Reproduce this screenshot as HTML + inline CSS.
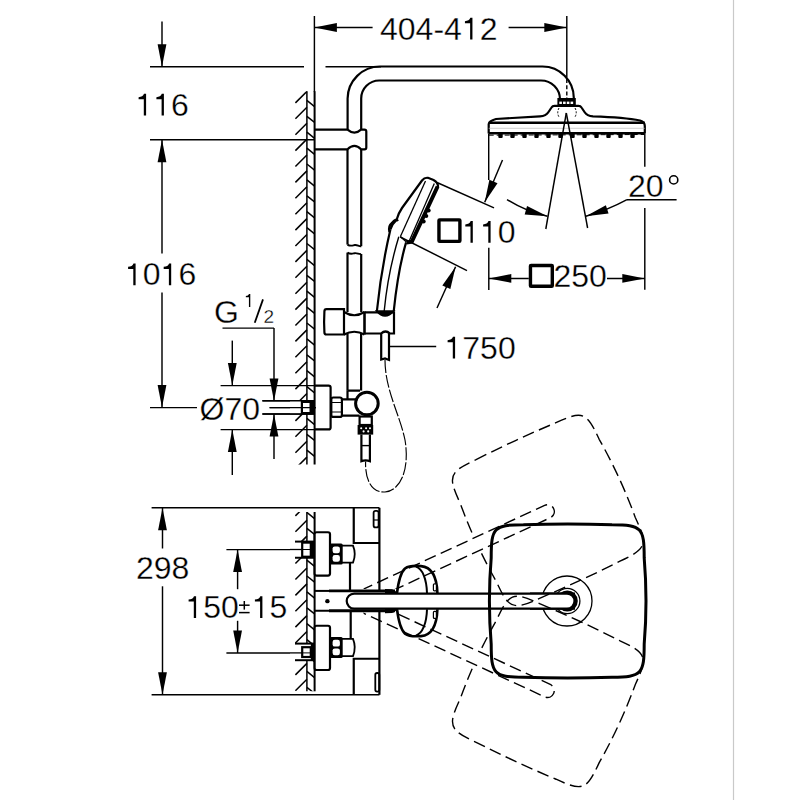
<!DOCTYPE html>
<html><head><meta charset="utf-8"><style>
html,body{margin:0;padding:0;background:#fff;width:800px;height:800px;overflow:hidden}
svg{position:absolute;left:0;top:0;display:block}
text{font-family:"Liberation Sans",sans-serif;fill:#000;stroke:#fff;stroke-width:0.3px}
</style></head><body>
<svg width="800" height="800" viewBox="0 0 800 800" stroke="#000" fill="none" stroke-linecap="butt">
<rect x="732.9" y="0" width="1.2" height="800" fill="#c9c9c9" stroke="none"/>
<line x1="162.00" y1="21.50" x2="162.00" y2="66.70" stroke-width="1.45" />
<path d="M162.00,66.70 L157.60,44.20 L166.40,44.20Z" fill="#000" stroke="none"/>
<line x1="150.00" y1="66.70" x2="304.00" y2="66.70" stroke-width="1.45" />
<line x1="325.50" y1="66.70" x2="381.00" y2="66.70" stroke-width="1.45" />
<line x1="150.00" y1="139.70" x2="314.00" y2="139.70" stroke-width="1.45" />
<line x1="162.00" y1="139.70" x2="162.00" y2="253.50" stroke-width="1.45" />
<path d="M162.00,139.70 L166.40,162.20 L157.60,162.20Z" fill="#000" stroke="none"/>
<line x1="162.00" y1="292.50" x2="162.00" y2="407.60" stroke-width="1.45" />
<path d="M162.00,407.60 L157.60,385.10 L166.40,385.10Z" fill="#000" stroke="none"/>
<line x1="150.00" y1="407.60" x2="197.00" y2="407.60" stroke-width="1.45" />
<path d="M146.10,93.85 L146.10,115.60 L143.80,115.60 L143.80,99.30 L138.60,99.30 L138.60,97.20 Q142.80,97.00 144.00,93.85 Z" fill="#000" stroke="none"/>
<path d="M163.90,93.85 L163.90,115.60 L161.60,115.60 L161.60,99.30 L156.40,99.30 L156.40,97.20 Q160.60,97.00 161.80,93.85 Z" fill="#000" stroke="none"/>
<text x="135.5" y="115.6" font-size="32" >  6</text>
<path d="M135.60,263.45 L135.60,285.20 L133.30,285.20 L133.30,268.90 L128.10,268.90 L128.10,266.80 Q132.30,266.60 133.50,263.45 Z" fill="#000" stroke="none"/>
<path d="M171.19,263.45 L171.19,285.20 L168.89,285.20 L168.89,268.90 L163.69,268.90 L163.69,266.80 Q167.89,266.60 169.09,263.45 Z" fill="#000" stroke="none"/>
<text x="125" y="285.2" font-size="32" > 0 6</text>
<line x1="314.40" y1="16.00" x2="314.40" y2="92.00" stroke-width="1.45" />
<line x1="566.80" y1="16.00" x2="566.80" y2="77.50" stroke-width="1.45" />
<line x1="566.80" y1="79.00" x2="566.80" y2="98.50" stroke-width="1.4" stroke-dasharray="4,2.2"/>
<line x1="314.40" y1="27.50" x2="372.60" y2="27.50" stroke-width="1.45" />
<path d="M314.40,27.50 L336.90,23.10 L336.90,31.90Z" fill="#000" stroke="none"/>
<line x1="508.60" y1="27.50" x2="566.80" y2="27.50" stroke-width="1.45" />
<path d="M566.80,27.50 L544.30,31.90 L544.30,23.10Z" fill="#000" stroke="none"/>
<path d="M472.44,17.85 L472.44,39.60 L470.14,39.60 L470.14,23.30 L464.94,23.30 L464.94,21.20 Q469.14,21.00 470.34,17.85 Z" fill="#000" stroke="none"/>
<text x="380" y="39.6" font-size="32" >404-4 2</text>
<clipPath id="wc1"><rect x="290" y="91.2" width="25" height="373.3"/></clipPath>
<g clip-path="url(#wc1)">
<line x1="295.40" y1="55.20" x2="306.90" y2="43.70" stroke-width="1.5" />
<line x1="295.40" y1="71.10" x2="306.90" y2="59.60" stroke-width="1.5" />
<line x1="295.40" y1="87.00" x2="306.90" y2="75.50" stroke-width="1.5" />
<line x1="295.40" y1="102.90" x2="306.90" y2="91.40" stroke-width="1.5" />
<line x1="295.40" y1="118.80" x2="306.90" y2="107.30" stroke-width="1.5" />
<line x1="295.40" y1="134.70" x2="306.90" y2="123.20" stroke-width="1.5" />
<line x1="295.40" y1="150.60" x2="306.90" y2="139.10" stroke-width="1.5" />
<line x1="295.40" y1="166.50" x2="306.90" y2="155.00" stroke-width="1.5" />
<line x1="295.40" y1="182.40" x2="306.90" y2="170.90" stroke-width="1.5" />
<line x1="295.40" y1="198.30" x2="306.90" y2="186.80" stroke-width="1.5" />
<line x1="295.40" y1="214.20" x2="306.90" y2="202.70" stroke-width="1.5" />
<line x1="295.40" y1="230.10" x2="306.90" y2="218.60" stroke-width="1.5" />
<line x1="295.40" y1="246.00" x2="306.90" y2="234.50" stroke-width="1.5" />
<line x1="295.40" y1="261.90" x2="306.90" y2="250.40" stroke-width="1.5" />
<line x1="295.40" y1="277.80" x2="306.90" y2="266.30" stroke-width="1.5" />
<line x1="295.40" y1="293.70" x2="306.90" y2="282.20" stroke-width="1.5" />
<line x1="295.40" y1="309.60" x2="306.90" y2="298.10" stroke-width="1.5" />
<line x1="295.40" y1="325.50" x2="306.90" y2="314.00" stroke-width="1.5" />
<line x1="295.40" y1="341.40" x2="306.90" y2="329.90" stroke-width="1.5" />
<line x1="295.40" y1="357.30" x2="306.90" y2="345.80" stroke-width="1.5" />
<line x1="295.40" y1="373.20" x2="306.90" y2="361.70" stroke-width="1.5" />
<line x1="295.40" y1="389.10" x2="306.90" y2="377.60" stroke-width="1.5" />
<line x1="295.40" y1="405.00" x2="306.90" y2="393.50" stroke-width="1.5" />
<line x1="295.40" y1="420.90" x2="306.90" y2="409.40" stroke-width="1.5" />
<line x1="295.40" y1="436.80" x2="306.90" y2="425.30" stroke-width="1.5" />
<line x1="295.40" y1="452.70" x2="306.90" y2="441.20" stroke-width="1.5" />
<line x1="295.40" y1="468.60" x2="306.90" y2="457.10" stroke-width="1.5" />
<line x1="295.40" y1="484.50" x2="306.90" y2="473.00" stroke-width="1.5" />
<line x1="306.90" y1="52.70" x2="314.60" y2="58.90" stroke-width="1.5" />
<line x1="306.90" y1="68.60" x2="314.60" y2="74.80" stroke-width="1.5" />
<line x1="306.90" y1="84.50" x2="314.60" y2="90.70" stroke-width="1.5" />
<line x1="306.90" y1="100.40" x2="314.60" y2="106.60" stroke-width="1.5" />
<line x1="306.90" y1="116.30" x2="314.60" y2="122.50" stroke-width="1.5" />
<line x1="306.90" y1="132.20" x2="314.60" y2="138.40" stroke-width="1.5" />
<line x1="306.90" y1="148.10" x2="314.60" y2="154.30" stroke-width="1.5" />
<line x1="306.90" y1="164.00" x2="314.60" y2="170.20" stroke-width="1.5" />
<line x1="306.90" y1="179.90" x2="314.60" y2="186.10" stroke-width="1.5" />
<line x1="306.90" y1="195.80" x2="314.60" y2="202.00" stroke-width="1.5" />
<line x1="306.90" y1="211.70" x2="314.60" y2="217.90" stroke-width="1.5" />
<line x1="306.90" y1="227.60" x2="314.60" y2="233.80" stroke-width="1.5" />
<line x1="306.90" y1="243.50" x2="314.60" y2="249.70" stroke-width="1.5" />
<line x1="306.90" y1="259.40" x2="314.60" y2="265.60" stroke-width="1.5" />
<line x1="306.90" y1="275.30" x2="314.60" y2="281.50" stroke-width="1.5" />
<line x1="306.90" y1="291.20" x2="314.60" y2="297.40" stroke-width="1.5" />
<line x1="306.90" y1="307.10" x2="314.60" y2="313.30" stroke-width="1.5" />
<line x1="306.90" y1="323.00" x2="314.60" y2="329.20" stroke-width="1.5" />
<line x1="306.90" y1="338.90" x2="314.60" y2="345.10" stroke-width="1.5" />
<line x1="306.90" y1="354.80" x2="314.60" y2="361.00" stroke-width="1.5" />
<line x1="306.90" y1="370.70" x2="314.60" y2="376.90" stroke-width="1.5" />
<line x1="306.90" y1="386.60" x2="314.60" y2="392.80" stroke-width="1.5" />
<line x1="306.90" y1="402.50" x2="314.60" y2="408.70" stroke-width="1.5" />
<line x1="306.90" y1="418.40" x2="314.60" y2="424.60" stroke-width="1.5" />
<line x1="306.90" y1="434.30" x2="314.60" y2="440.50" stroke-width="1.5" />
<line x1="306.90" y1="450.20" x2="314.60" y2="456.40" stroke-width="1.5" />
<line x1="306.90" y1="466.10" x2="314.60" y2="472.30" stroke-width="1.5" />
</g>
<line x1="314.60" y1="91.20" x2="314.60" y2="464.50" stroke-width="2.0" />
<line x1="306.90" y1="91.20" x2="306.90" y2="464.50" stroke-width="1.5" />
<path d="M347.6,129.5 V98.5 A32.4,32.4 0 0 1 380,66.5 H542.5 A31.3,31.3 0 0 1 573.8,97.8 V100" stroke-width="2.2" fill="none" />
<path d="M361.2,129.5 V98.5 A18,18 0 0 1 379.2,80.5 H541 A19,19 0 0 1 560,99.5 V100" stroke-width="2.2" fill="none" />
<path d="M314.6,129.6 H347.5 Q354.5,135.6 361,129.6 H364.5 Q366.3,129.6 366.3,131.5 V147.5 Q366.3,149.3 364.5,149.3 H361 Q354.5,142.6 347.5,149.3 H314.6" stroke-width="2.2" fill="none" />
<line x1="347.50" y1="149.30" x2="347.50" y2="244.60" stroke-width="2.2" />
<line x1="361.20" y1="149.30" x2="361.20" y2="246.20" stroke-width="2.2" />
<path d="M347.5,244.6 C350.5,246.6 352.5,245.4 354.8,245 C357.3,244.6 359,246.6 361.2,246.2" stroke-width="1.9" fill="none" />
<path d="M347.5,252.6 C350.5,254.6 352.5,253.6 354.8,253.2 C357.3,252.8 359,254.6 361.2,254" stroke-width="1.9" fill="none" />
<line x1="347.50" y1="252.60" x2="347.50" y2="312.00" stroke-width="2.2" />
<line x1="361.20" y1="254.00" x2="361.20" y2="312.00" stroke-width="2.2" />
<line x1="347.50" y1="334.00" x2="347.50" y2="390.60" stroke-width="2.2" />
<line x1="361.10" y1="334.00" x2="361.10" y2="390.60" stroke-width="2.2" />
<path d="M344,309.2 H326.5 Q324.4,309.2 324.4,311.5 Q323.8,322 324.4,332.2 Q324.4,334.5 326.5,334.5 H344 Z" stroke-width="2.2" fill="none" />
<path d="M344,312 Q354.3,318.5 364.5,312 M344,334.5 Q354.3,329 364.5,334.5" stroke-width="2.2" fill="none" />
<line x1="364.50" y1="311.50" x2="364.50" y2="334.50" stroke-width="2.6" />
<path d="M364.5,312.3 H394 V333.5 H390 Q385.5,329.5 381,333.5 H364.5" stroke-width="2.2" fill="none" />
<path d="M376.5,311 Q385,321 393.8,311 Z" stroke-width="1.6" fill="#000" />
<path d="M381.2,333 V359.5 L385,358.5 L389,360 V333" stroke-width="2.2" fill="none" />
<line x1="389.00" y1="346.50" x2="436.20" y2="346.50" stroke-width="1.45" />
<path d="M455.10,336.85 L455.10,358.60 L452.80,358.60 L452.80,342.30 L447.60,342.30 L447.60,340.20 Q451.80,340.00 453.00,336.85 Z" fill="#000" stroke="none"/>
<text x="444.5" y="358.6" font-size="32" > 750</text>
<path d="M376.9,311 Q381,270 390.4,229.5" stroke-width="2.2" fill="none" />
<path d="M393.75,311 Q398,270 406.1,242.4" stroke-width="2.2" fill="none" />
<path d="M384.2,311 Q388,272 398.8,236.8" stroke-width="1.4" fill="none" />
<line x1="400.50" y1="236.80" x2="406.50" y2="242.00" stroke-width="1.4" />
<path d="M390.4,229.5 Q392,224 396.5,220 Q398.5,213 402,208 L422,180.5 Q424.5,177.3 428,177.8 L433.5,180 Q438.2,182.5 438,187" stroke-width="2.2" fill="none" />
<path d="M389.5,232 Q388,226 392,223 Q396,218 398,221" stroke-width="2.4" fill="none" />
<line x1="425.50" y1="181.00" x2="400.30" y2="236.80" stroke-width="1.3" />
<line x1="434.30" y1="183.50" x2="408.80" y2="242.00" stroke-width="1.3" />
<path d="M437.6,186.5 L411.8,241.8 L406.5,242.6" stroke-width="4.0" fill="none" />
<circle cx="428.6" cy="210.5" r="2.1" fill="#000" stroke="none"/>
<circle cx="426.2" cy="216" r="2.1" fill="#000" stroke="none"/>
<circle cx="423.6" cy="221.5" r="2.1" fill="#000" stroke="none"/>
<line x1="437.00" y1="182.50" x2="494.00" y2="207.80" stroke-width="1.45" />
<line x1="400.30" y1="237.00" x2="467.00" y2="270.60" stroke-width="1.45" />
<line x1="502.50" y1="160.00" x2="484.70" y2="202.20" stroke-width="1.45" />
<path d="M484.70,202.20 L489.39,179.76 L497.50,183.18Z" fill="#000" stroke="none"/>
<line x1="437.00" y1="308.00" x2="455.60" y2="266.80" stroke-width="1.45" />
<path d="M455.60,266.80 L450.35,289.12 L442.33,285.50Z" fill="#000" stroke="none"/>
<rect x="438.95" y="219.9" width="20.95" height="21.5" rx="0.6" fill="none" stroke-width="3.4"/>
<path d="M472.80,221.05 L472.80,242.80 L470.50,242.80 L470.50,226.50 L465.30,226.50 L465.30,224.40 Q469.50,224.20 470.70,221.05 Z" fill="#000" stroke="none"/>
<path d="M490.60,221.05 L490.60,242.80 L488.30,242.80 L488.30,226.50 L483.10,226.50 L483.10,224.40 Q487.30,224.20 488.50,221.05 Z" fill="#000" stroke="none"/>
<text x="462.2" y="242.8" font-size="32" >  0</text>
<rect x="557.4" y="98" width="18.4" height="7.6" fill="#000" stroke="none"/>
<rect x="559.30" y="101.6" width="2.6" height="2.4" fill="#fff" stroke="none"/>
<rect x="563.05" y="101.6" width="2.6" height="2.4" fill="#fff" stroke="none"/>
<rect x="566.80" y="101.6" width="2.6" height="2.4" fill="#fff" stroke="none"/>
<rect x="570.55" y="101.6" width="2.6" height="2.4" fill="#fff" stroke="none"/>
<path d="M488.7,133.5 V124 Q489,121 496,119 Q520,117.5 540,116.3 Q546,116 548.5,112 L551.5,107.5 Q552.5,105.8 554.5,105.8 H578.5 Q580.5,105.8 581.5,107.5 L584.5,112 Q587,116 593,116.4 Q625,117.5 640,120.5 Q644.8,122 644.8,126 V133.5" stroke-width="2.2" fill="none" />
<line x1="488.70" y1="122.80" x2="644.80" y2="122.80" stroke-width="2.4" />
<line x1="488.70" y1="128.30" x2="644.80" y2="128.30" stroke-width="0.7" stroke="#bbb"/>
<line x1="488.70" y1="133.30" x2="644.80" y2="133.30" stroke-width="2.4" />
<line x1="488.70" y1="135.20" x2="644.00" y2="134.50" stroke-width="1.0" stroke-dasharray="5,3"/>
<rect x="498.3" y="133.5" width="4.4" height="4.6" rx="1" fill="#000" stroke="none"/>
<rect x="510.3" y="133.5" width="4.4" height="4.6" rx="1" fill="#000" stroke="none"/>
<rect x="522.3" y="133.5" width="4.4" height="4.6" rx="1" fill="#000" stroke="none"/>
<rect x="534.3" y="133.5" width="4.4" height="4.6" rx="1" fill="#000" stroke="none"/>
<rect x="546.3" y="133.5" width="4.4" height="4.6" rx="1" fill="#000" stroke="none"/>
<rect x="558.3" y="133.5" width="4.4" height="4.6" rx="1" fill="#000" stroke="none"/>
<rect x="570.3" y="133.5" width="4.4" height="4.6" rx="1" fill="#000" stroke="none"/>
<rect x="582.3" y="133.5" width="4.4" height="4.6" rx="1" fill="#000" stroke="none"/>
<rect x="594.3" y="133.5" width="4.4" height="4.6" rx="1" fill="#000" stroke="none"/>
<rect x="606.3" y="133.5" width="4.4" height="4.6" rx="1" fill="#000" stroke="none"/>
<rect x="618.3" y="133.5" width="4.4" height="4.6" rx="1" fill="#000" stroke="none"/>
<rect x="630.3" y="133.5" width="4.4" height="4.6" rx="1" fill="#000" stroke="none"/>
<path d="M559,108 Q556.5,112.5 559,117" stroke-width="1.0" fill="none" stroke-dasharray="2,1.5"/>
<path d="M575,108 Q577.5,112.5 575,117" stroke-width="1.0" fill="none" stroke-dasharray="2,1.5"/>
<line x1="488.70" y1="133.50" x2="488.70" y2="180.00" stroke-width="1.45" />
<line x1="644.80" y1="133.50" x2="644.80" y2="166.80" stroke-width="1.45" />
<line x1="644.80" y1="208.00" x2="644.80" y2="289.80" stroke-width="1.45" />
<line x1="488.80" y1="247.80" x2="488.80" y2="290.00" stroke-width="1.45" />
<line x1="566.30" y1="113.00" x2="545.80" y2="229.00" stroke-width="1.45" />
<line x1="566.30" y1="113.00" x2="587.60" y2="228.00" stroke-width="1.45" />
<path d="M507,199.6 Q527,212 547.5,216.3" stroke-width="1.45" fill="none" />
<path d="M547.50,216.30 L524.65,214.41 L527.05,205.94Z" fill="#000" stroke="none"/>
<path d="M627,199.7 Q607,210.5 585.8,216.3" stroke-width="1.45" fill="none" />
<path d="M585.80,216.30 L605.87,205.22 L608.57,213.60Z" fill="#000" stroke="none"/>
<line x1="627.00" y1="199.70" x2="676.60" y2="199.70" stroke-width="1.45" />
<text x="628" y="196.5" font-size="32" >20</text>
<circle cx="673.7" cy="179.9" r="4.1" fill="none" stroke-width="1.6"/>
<line x1="488.80" y1="278.40" x2="528.80" y2="278.40" stroke-width="1.45" />
<path d="M488.80,278.40 L511.30,274.00 L511.30,282.80Z" fill="#000" stroke="none"/>
<rect x="530.45" y="265.45" width="21.85" height="20.85" rx="0.6" fill="none" stroke-width="3.4"/>
<text x="553.5" y="287.4" font-size="32" >250</text>
<line x1="607.00" y1="278.40" x2="644.80" y2="278.40" stroke-width="1.45" />
<path d="M644.80,278.40 L622.30,282.80 L622.30,274.00Z" fill="#000" stroke="none"/>
<text x="214" y="322.8" font-size="32" >G</text>
<path d="M250.29,293.99 L250.29,306.90 L248.93,306.90 L248.93,297.22 L245.84,297.22 L245.84,295.97 Q248.33,295.86 249.05,293.99 Z" fill="#000" stroke="none"/>
<line x1="254.75" y1="322.75" x2="263.00" y2="299.40" stroke-width="1.8" />
<text x="263.5" y="322.8" font-size="19" >2</text>
<line x1="222.50" y1="328.10" x2="274.00" y2="328.10" stroke-width="1.45" />
<line x1="274.00" y1="328.10" x2="274.00" y2="401.00" stroke-width="1.45" />
<path d="M274.00,401.00 L269.60,378.50 L278.40,378.50Z" fill="#000" stroke="none"/>
<line x1="274.00" y1="414.00" x2="274.00" y2="459.00" stroke-width="1.45" />
<path d="M274.00,414.00 L278.40,436.50 L269.60,436.50Z" fill="#000" stroke="none"/>
<line x1="232.30" y1="340.60" x2="232.30" y2="385.60" stroke-width="1.45" />
<path d="M232.30,385.60 L227.90,363.10 L236.70,363.10Z" fill="#000" stroke="none"/>
<line x1="232.30" y1="429.60" x2="232.30" y2="475.00" stroke-width="1.45" />
<path d="M232.30,429.60 L236.70,452.10 L227.90,452.10Z" fill="#000" stroke="none"/>
<line x1="220.60" y1="385.60" x2="315.00" y2="385.60" stroke-width="1.45" />
<line x1="220.60" y1="429.60" x2="315.00" y2="429.60" stroke-width="1.45" />
<line x1="262.40" y1="400.80" x2="314.00" y2="400.80" stroke-width="1.45" />
<line x1="262.40" y1="413.90" x2="314.00" y2="413.90" stroke-width="1.45" />
<line x1="269.60" y1="407.70" x2="316.00" y2="407.70" stroke-width="1.2" />
<text x="199.5" y="419.5" font-size="32" >Ø70</text>
<path d="M314.6,385.6 H328.6 Q330.6,385.6 330.6,387.6 V427.4 Q330.6,429.4 328.6,429.4 H314.6" stroke-width="2.2" fill="none" />
<rect x="301.9" y="401.9" width="8.7" height="11.2" fill="none" stroke-width="2.2"/>
<rect x="310.6" y="401" width="3.5" height="13" fill="#000" stroke="none"/>
<rect x="331.3" y="397.5" width="10.6" height="19.4" rx="2" fill="none" stroke-width="2.2"/>
<line x1="332.00" y1="402.50" x2="341.00" y2="402.50" stroke-width="1.0" />
<line x1="332.00" y1="412.00" x2="341.00" y2="412.00" stroke-width="1.0" />
<path d="M341.9,399.4 H358 M341.9,415.6 H359.5" stroke-width="2.2" fill="none" />
<path d="M347.5,390.6 H360 M347.5,390.6 V399.4" stroke-width="2.2" fill="none" />
<circle cx="366.9" cy="403.5" r="11.3" fill="none" stroke-width="3"/>
<rect x="359.6" y="416.5" width="12.2" height="8.5" fill="none" stroke-width="2.2"/>
<rect x="357.6" y="425" width="15.6" height="9.6" fill="#000" stroke="none"/>
<circle cx="361.2" cy="428.3" r="1.05" fill="#fff" stroke="none"/>
<circle cx="366.1" cy="428.3" r="1.05" fill="#fff" stroke="none"/>
<circle cx="370.0" cy="428.3" r="1.05" fill="#fff" stroke="none"/>
<circle cx="363.6" cy="431.4" r="1.05" fill="#fff" stroke="none"/>
<circle cx="368.2" cy="431.4" r="1.05" fill="#fff" stroke="none"/>
<path d="M361.4,434.4 V461.2 Q365.6,459.5 369.9,461.2 V434.4" stroke-width="2.2" fill="none" />
<line x1="361.40" y1="445.60" x2="369.90" y2="445.60" stroke-width="1.4" />
<path d="M385,360 C385,390 400,415 405,440 C410,470 400,491 385,492 C370,493 365,477 365.6,461.5" stroke-width="1.15" fill="none" stroke-dasharray="13,2"/>
<line x1="151.60" y1="507.80" x2="379.40" y2="507.80" stroke-width="1.45" />
<line x1="151.60" y1="694.80" x2="379.40" y2="694.80" stroke-width="1.45" />
<line x1="162.50" y1="507.80" x2="162.50" y2="548.50" stroke-width="1.45" />
<path d="M162.50,507.80 L166.90,530.30 L158.10,530.30Z" fill="#000" stroke="none"/>
<line x1="162.50" y1="586.30" x2="162.50" y2="694.80" stroke-width="1.45" />
<path d="M162.50,694.80 L158.10,672.30 L166.90,672.30Z" fill="#000" stroke="none"/>
<text x="136" y="578.9" font-size="32" >298</text>
<line x1="226.40" y1="549.60" x2="300.00" y2="549.60" stroke-width="1.45" />
<line x1="226.40" y1="653.00" x2="300.00" y2="653.00" stroke-width="1.45" />
<line x1="237.60" y1="549.60" x2="237.60" y2="589.20" stroke-width="1.45" />
<path d="M237.60,549.60 L242.00,572.10 L233.20,572.10Z" fill="#000" stroke="none"/>
<line x1="237.60" y1="620.80" x2="237.60" y2="653.00" stroke-width="1.45" />
<path d="M237.60,653.00 L233.20,630.50 L242.00,630.50Z" fill="#000" stroke="none"/>
<path d="M196.10,596.15 L196.10,617.90 L193.80,617.90 L193.80,601.60 L188.60,601.60 L188.60,599.50 Q192.80,599.30 194.00,596.15 Z" fill="#000" stroke="none"/>
<text x="185.5" y="617.9" font-size="32" > 50</text>
<line x1="239.00" y1="605.20" x2="249.60" y2="605.20" stroke-width="1.5" />
<line x1="244.30" y1="601.00" x2="244.30" y2="609.60" stroke-width="1.5" />
<line x1="239.00" y1="612.60" x2="249.60" y2="612.60" stroke-width="1.5" />
<path d="M262.40,596.15 L262.40,617.90 L260.10,617.90 L260.10,601.60 L254.90,601.60 L254.90,599.50 Q259.10,599.30 260.30,596.15 Z" fill="#000" stroke="none"/>
<text x="251.8" y="617.9" font-size="32" > 5</text>
<rect x="290" y="401" width="24" height="12.5" fill="#fff" stroke="none"/>
<line x1="262.40" y1="400.80" x2="314.00" y2="400.80" stroke-width="1.45" />
<line x1="262.40" y1="413.90" x2="314.00" y2="413.90" stroke-width="1.45" />
<line x1="269.60" y1="407.70" x2="316.00" y2="407.70" stroke-width="1.2" />
<rect x="301.9" y="401.9" width="8.7" height="11.2" fill="none" stroke-width="2.2"/>
<rect x="310.6" y="401" width="3.5" height="13" fill="#000" stroke="none"/>
<clipPath id="wc2"><rect x="290" y="512" width="25" height="179.29999999999995"/></clipPath>
<g clip-path="url(#wc2)">
<line x1="295.40" y1="484.05" x2="306.90" y2="472.55" stroke-width="1.5" />
<line x1="295.40" y1="499.95" x2="306.90" y2="488.45" stroke-width="1.5" />
<line x1="295.40" y1="515.85" x2="306.90" y2="504.35" stroke-width="1.5" />
<line x1="295.40" y1="531.75" x2="306.90" y2="520.25" stroke-width="1.5" />
<line x1="295.40" y1="547.65" x2="306.90" y2="536.15" stroke-width="1.5" />
<line x1="295.40" y1="563.55" x2="306.90" y2="552.05" stroke-width="1.5" />
<line x1="295.40" y1="579.45" x2="306.90" y2="567.95" stroke-width="1.5" />
<line x1="295.40" y1="595.35" x2="306.90" y2="583.85" stroke-width="1.5" />
<line x1="295.40" y1="611.25" x2="306.90" y2="599.75" stroke-width="1.5" />
<line x1="295.40" y1="627.15" x2="306.90" y2="615.65" stroke-width="1.5" />
<line x1="295.40" y1="643.05" x2="306.90" y2="631.55" stroke-width="1.5" />
<line x1="295.40" y1="658.95" x2="306.90" y2="647.45" stroke-width="1.5" />
<line x1="295.40" y1="674.85" x2="306.90" y2="663.35" stroke-width="1.5" />
<line x1="295.40" y1="690.75" x2="306.90" y2="679.25" stroke-width="1.5" />
<line x1="295.40" y1="706.65" x2="306.90" y2="695.15" stroke-width="1.5" />
<line x1="306.90" y1="464.70" x2="314.60" y2="470.90" stroke-width="1.5" />
<line x1="306.90" y1="480.60" x2="314.60" y2="486.80" stroke-width="1.5" />
<line x1="306.90" y1="496.50" x2="314.60" y2="502.70" stroke-width="1.5" />
<line x1="306.90" y1="512.40" x2="314.60" y2="518.60" stroke-width="1.5" />
<line x1="306.90" y1="528.30" x2="314.60" y2="534.50" stroke-width="1.5" />
<line x1="306.90" y1="544.20" x2="314.60" y2="550.40" stroke-width="1.5" />
<line x1="306.90" y1="560.10" x2="314.60" y2="566.30" stroke-width="1.5" />
<line x1="306.90" y1="576.00" x2="314.60" y2="582.20" stroke-width="1.5" />
<line x1="306.90" y1="591.90" x2="314.60" y2="598.10" stroke-width="1.5" />
<line x1="306.90" y1="607.80" x2="314.60" y2="614.00" stroke-width="1.5" />
<line x1="306.90" y1="623.70" x2="314.60" y2="629.90" stroke-width="1.5" />
<line x1="306.90" y1="639.60" x2="314.60" y2="645.80" stroke-width="1.5" />
<line x1="306.90" y1="655.50" x2="314.60" y2="661.70" stroke-width="1.5" />
<line x1="306.90" y1="671.40" x2="314.60" y2="677.60" stroke-width="1.5" />
<line x1="306.90" y1="687.30" x2="314.60" y2="693.50" stroke-width="1.5" />
<line x1="306.90" y1="703.20" x2="314.60" y2="709.40" stroke-width="1.5" />
</g>
<line x1="314.60" y1="512.00" x2="314.60" y2="691.30" stroke-width="2.0" />
<line x1="306.90" y1="512.00" x2="306.90" y2="691.30" stroke-width="1.5" />
<rect x="290" y="541.6" width="24" height="16.149999999999977" fill="#fff" stroke="none"/>
<line x1="295.00" y1="541.60" x2="314.60" y2="541.60" stroke-width="2.0" />
<line x1="295.00" y1="557.75" x2="314.60" y2="557.75" stroke-width="2.0" />
<line x1="290.00" y1="549.50" x2="302.00" y2="549.50" stroke-width="1.3" />
<rect x="302.2" y="542.6" width="8.6" height="14.149999999999977" fill="none" stroke-width="2.2"/>
<line x1="302.20" y1="549.50" x2="310.80" y2="549.50" stroke-width="1.0" />
<rect x="310.8" y="541.6" width="3.8" height="16.149999999999977" fill="#000" stroke="none"/>
<rect x="290" y="643.6" width="24" height="16.600000000000023" fill="#fff" stroke="none"/>
<line x1="295.00" y1="643.60" x2="314.60" y2="643.60" stroke-width="2.0" />
<line x1="295.00" y1="660.20" x2="314.60" y2="660.20" stroke-width="2.0" />
<line x1="290.00" y1="652.90" x2="302.00" y2="652.90" stroke-width="1.3" />
<rect x="302.2" y="647.2" width="8.6" height="9.799999999999955" fill="none" stroke-width="2.2"/>
<line x1="302.20" y1="652.90" x2="310.80" y2="652.90" stroke-width="1.0" />
<rect x="310.8" y="643.6" width="3.8" height="16.600000000000023" fill="#000" stroke="none"/>
<line x1="379.40" y1="507.80" x2="379.40" y2="590.90" stroke-width="2.2" />
<line x1="379.40" y1="610.75" x2="379.40" y2="694.80" stroke-width="2.2" />
<path d="M353.75,507.8 V543 H379.4" stroke-width="2.2" fill="none" />
<path d="M353.75,694.8 V658.75 H379.4" stroke-width="2.2" fill="none" />
<rect x="373.6" y="510.8" width="5" height="16.6" rx="2" fill="none" stroke-width="1.8"/>
<line x1="373.60" y1="520.00" x2="378.60" y2="520.00" stroke-width="1.2" />
<rect x="375.3" y="673" width="4" height="18.6" rx="1.8" fill="none" stroke-width="1.8"/>
<rect x="314.6" y="532.25" width="15.4" height="43.35000000000002" rx="2" fill="#fff" stroke-width="2.2"/>
<rect x="329.8" y="543.6" width="12.9" height="20.950000000000024" rx="1.5" fill="#000" stroke="none"/>
<rect x="332.6" y="546.4" width="7.3" height="6.775000000000068" rx="2.2" fill="#fff" stroke="none"/>
<rect x="332.6" y="554.975" width="7.3" height="6.775000000000068" rx="2.2" fill="#fff" stroke="none"/>
<path d="M341.9,545.6 H353 Q356.5,554.075 353,562.55 H341.9" stroke-width="1.8" fill="none" />
<rect x="314.6" y="625.75" width="15.4" height="44.25" rx="2" fill="#fff" stroke-width="2.2"/>
<rect x="329.8" y="636.95" width="12.9" height="21.1" rx="1.5" fill="#000" stroke="none"/>
<rect x="332.6" y="639.75" width="7.3" height="6.85" rx="2.2" fill="#fff" stroke="none"/>
<rect x="332.6" y="648.4" width="7.3" height="6.85" rx="2.2" fill="#fff" stroke="none"/>
<path d="M341.9,638.95 H353 Q356.5,647.5 353,656.05 H341.9" stroke-width="1.8" fill="none" />
<line x1="350.00" y1="562.50" x2="350.00" y2="590.90" stroke-width="2.2" />
<line x1="350.70" y1="610.75" x2="350.70" y2="638.50" stroke-width="2.2" />
<line x1="314.60" y1="590.90" x2="329.00" y2="590.90" stroke-width="2.0" />
<line x1="329.00" y1="590.90" x2="395.00" y2="590.90" stroke-width="2.8" />
<line x1="314.60" y1="610.75" x2="329.00" y2="610.75" stroke-width="2.0" />
<line x1="329.00" y1="610.75" x2="395.00" y2="610.75" stroke-width="2.8" />
<circle cx="327.4" cy="601.15" r="2.2" fill="#000" stroke="none"/>
<path d="M575,593.6 H354.2 A7.5,7.5 0 0 0 354.2,608.6 H575" stroke-width="2.2" fill="none" />
<path d="M523.4,524.6999999999999 C552.9333333333333,523.6333333333333 582.4666666666667,523.6333333333333 612,524.6999999999999 C641.92,524.6999999999999 644.2,527.98 644.2,557.9 C646.6,586.6 646.6,615.3 644.2,644 C644.2,673.92 641.92,677.2 612,677.2 C582.4666666666667,678.2666666666667 552.9333333333333,678.2666666666667 523.4,677.2 C493.47999999999996,677.2 491.2,673.92 491.2,644 C488.79999999999995,615.3 488.79999999999995,586.6 491.2,557.9 C491.2,527.98 493.47999999999996,524.6999999999999 523.4,524.6999999999999 Z" stroke-width="3.0" fill="none" />
<circle cx="567" cy="601" r="25" fill="none" stroke-width="1.3"/>
<circle cx="567.3" cy="601" r="12.6" fill="none" stroke-width="1.3"/>
<circle cx="567.3" cy="601" r="8.8" fill="none" stroke-width="3.4"/>
<path d="M530,593.6 H567 A7.5,7.5 0 0 1 567,608.6 H530" fill="#fff" stroke-width="2.2"/>
<path d="M397,593 C398,585 400,573 405,568.5 C409,565.6 415,565.6 421,566.1 C431,567 436.8,576 437.4,593" fill="none" stroke-width="2.6"/><path d="M415.8,566.6 C422.5,568.5 426.6,579 427,593" fill="none" stroke-width="2"/><path d="M385,588.9 L392,589.2 L397.5,592.2 L398,593.6 L385,593.6 Z" fill="#000" stroke="none"/><rect x="433.4" y="583.8" width="3" height="7" rx="1" fill="#fff" stroke-width="1.2"/>
<g transform="translate(0,1202.2) scale(1,-1)"><path d="M397,593 C398,585 400,573 405,568.5 C409,565.6 415,565.6 421,566.1 C431,567 436.8,576 437.4,593" fill="none" stroke-width="2.6"/><path d="M415.8,566.6 C422.5,568.5 426.6,579 427,593" fill="none" stroke-width="2"/><path d="M385,588.9 L392,589.2 L397.5,592.2 L398,593.6 L385,593.6 Z" fill="#000" stroke="none"/><rect x="433.4" y="583.8" width="3" height="7" rx="1" fill="#fff" stroke-width="1.2"/></g>
<mask id="mbody" maskUnits="userSpaceOnUse" x="0" y="0" width="800" height="800"><rect x="0" y="0" width="800" height="800" fill="#fff"/><rect x="0" y="589.5" width="397" height="22" fill="#000"/><rect x="0" y="0" width="363" height="800" fill="#000"/></mask>
<mask id="marm" maskUnits="userSpaceOnUse" x="0" y="0" width="800" height="800"><rect x="0" y="0" width="800" height="800" fill="#fff"/><rect x="330" y="594.3" width="250" height="13.6" fill="#000"/></mask>
<g mask="url(#mbody)"><g transform="rotate(-24.8 352.0 601.0)" fill="none" stroke-width="1.4" stroke-dasharray="12,5.5">
<path d="M523.4,524.6999999999999 C552.9333333333333,523.6333333333333 582.4666666666667,523.6333333333333 612,524.6999999999999 C641.92,524.6999999999999 644.2,527.98 644.2,557.9 C646.6,586.6 646.6,615.3 644.2,644 C644.2,673.92 641.92,677.2 612,677.2 C582.4666666666667,678.2666666666667 552.9333333333333,678.2666666666667 523.4,677.2 C493.47999999999996,677.2 491.2,673.92 491.2,644 C488.79999999999995,615.3 488.79999999999995,586.6 491.2,557.9 C491.2,527.98 493.47999999999996,524.6999999999999 523.4,524.6999999999999 Z" mask="url(#marm)"/>
<path d="M330,595 H567 A6.8,6.8 0 0 1 567,608.6 H330"/>
</g></g>
<g mask="url(#mbody)"><g transform="rotate(24.8 352.0 601.0)" fill="none" stroke-width="1.4" stroke-dasharray="12,5.5">
<path d="M523.4,524.6999999999999 C552.9333333333333,523.6333333333333 582.4666666666667,523.6333333333333 612,524.6999999999999 C641.92,524.6999999999999 644.2,527.98 644.2,557.9 C646.6,586.6 646.6,615.3 644.2,644 C644.2,673.92 641.92,677.2 612,677.2 C582.4666666666667,678.2666666666667 552.9333333333333,678.2666666666667 523.4,677.2 C493.47999999999996,677.2 491.2,673.92 491.2,644 C488.79999999999995,615.3 488.79999999999995,586.6 491.2,557.9 C491.2,527.98 493.47999999999996,524.6999999999999 523.4,524.6999999999999 Z" mask="url(#marm)"/>
<path d="M330,593.6 H567 A6.8,6.8 0 0 1 567,607.2 H330"/>
</g></g>
</svg></body></html>
